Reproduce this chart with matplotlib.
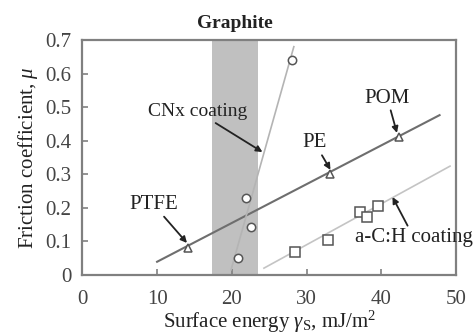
import matplotlib
matplotlib.use('Agg')
import matplotlib.pyplot as plt

plt.rcParams['font.family'] = ['Liberation Serif', 'DejaVu Serif']
plt.rcParams['mathtext.fontset'] = 'custom'
plt.rcParams['mathtext.rm'] = 'Liberation Serif'
plt.rcParams['mathtext.it'] = 'Liberation Serif:italic'

# polymers (triangles)
poly_x = [14.2, 33.1, 42.4]
poly_y = [0.08, 0.30, 0.41]
poly_names = ['PTFE', 'PE', 'POM']
poly_fit_x = [10.0, 47.8]
poly_fit_y = [0.039, 0.476]

# CNx coating (circles)
cnx_x = [20.8, 21.9, 22.6, 28.1]
cnx_y = [0.05, 0.229, 0.143, 0.64]
cnx_fit_x = [19.9, 28.3]
cnx_fit_y = [0.015, 0.68]

# a-C:H coating (squares)
ach_x = [28.4, 32.9, 37.2, 38.1, 39.6]
ach_y = [0.068, 0.104, 0.188, 0.173, 0.205]
ach_fit_x = [24.3, 49.2]
ach_fit_y = [0.02, 0.324]

graphite = (17.3, 23.5)

txt = '#222222'
fs = 15

fig = plt.figure(figsize=(4.76, 3.36), dpi=100)
ax = fig.add_axes([0.173, 0.182, 0.785, 0.699])

ax.axvspan(graphite[0], graphite[1], color='#c0c0c0', lw=0, zorder=0)

ax.plot(poly_fit_x, poly_fit_y, color='#6e6e6e', lw=1.5, zorder=2)
ax.plot(cnx_fit_x, cnx_fit_y, color='#b4b4b4', lw=1.2, zorder=2)
ax.plot(ach_fit_x, ach_fit_y, color='#c4c4c4', lw=1.2, zorder=2)

ax.plot(poly_x, poly_y, ls='none', marker='^', ms=6, mfc='white', mec='#555555', mew=1.1, zorder=3)
ax.plot(cnx_x, cnx_y, ls='none', marker='o', ms=6, mfc='white', mec='#555555', mew=1.1, zorder=3)
ax.plot(ach_x, ach_y, ls='none', marker='s', ms=6.5, mfc='white', mec='#555555', mew=1.1, zorder=3)

arrow = dict(arrowstyle='-|>', color='#222222', lw=1.3, mutation_scale=9, shrinkA=0, shrinkB=0)
ax.annotate('PTFE', xy=(14.0, 0.095), xytext=(9.5, 0.21), ha='center', va='center',
            fontsize=fs, color=txt, arrowprops=arrow)
ax.annotate('PE', xy=(33.2, 0.313), xytext=(31.1, 0.393), ha='center', va='center',
            fontsize=fs, color=txt, arrowprops=arrow)
ax.annotate('POM', xy=(42.1, 0.423), xytext=(40.8, 0.527), ha='center', va='center',
            fontsize=fs, color=txt, arrowprops=arrow)
ax.annotate('CNx coating', xy=(24.1, 0.366), xytext=(15.4, 0.486), ha='center', va='center',
            fontsize=14, color=txt, arrowprops=arrow)
ax.annotate('a-C:H coating', xy=(41.5, 0.232), xytext=(36.5, 0.11), ha='left', va='center',
            fontsize=fs, color=txt, arrowprops=arrow, annotation_clip=False)

ax.text(sum(graphite) / 2, 0.725, 'Graphite', ha='center', va='bottom', fontsize=14,
        fontweight='bold', color='#222222', clip_on=False)

ax.set_xlim(0, 50)
ax.set_ylim(0, 0.7)
ax.set_xticks([0, 10, 20, 30, 40, 50])
ax.set_yticks([0, 0.1, 0.2, 0.3, 0.4, 0.5, 0.6, 0.7])
ax.set_yticklabels(['0', '0.1', '0.2', '0.3', '0.4', '0.5', '0.6', '0.7'])
ax.tick_params(direction='in', length=4, width=1.2, color='#808080', labelsize=fs,
               labelcolor='#444444', pad=8)
ax.tick_params(axis='x', pad=11)
for s in ax.spines.values():
    s.set_color('#808080')
    s.set_linewidth(1.6)

ax.set_xlabel(r'Surface energy $\mathit{\gamma}_{\mathrm{S}}$, mJ/m$^2$', fontsize=fs, color=txt, labelpad=0)
ax.set_ylabel(r'Friction coefficient, $\mathit{\mu}$', fontsize=fs, color=txt, labelpad=4)

fig.savefig('out.png', dpi=100)
